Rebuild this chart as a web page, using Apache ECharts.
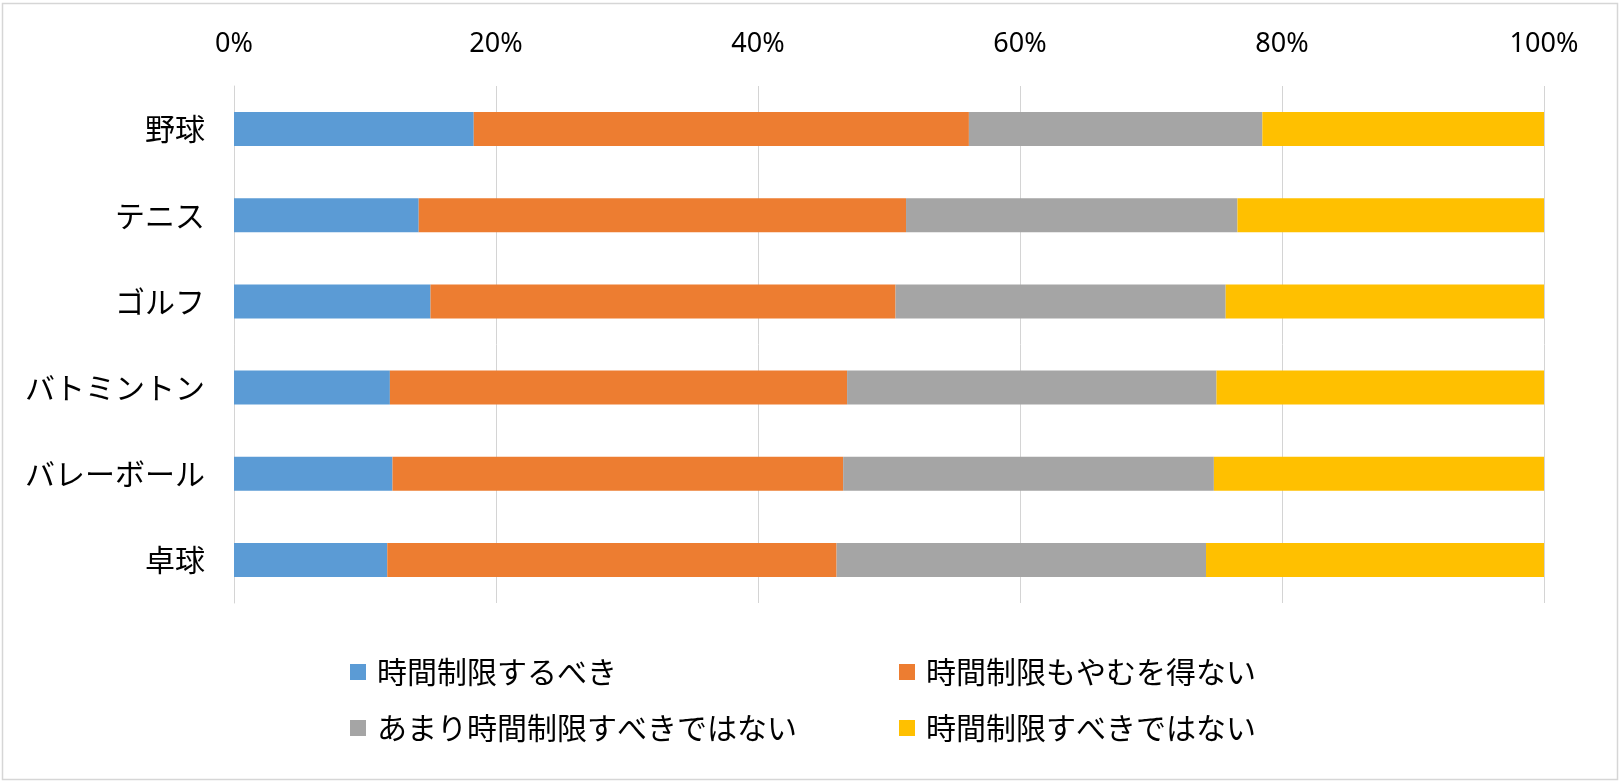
<!DOCTYPE html>
<html>
<head>
<meta charset="utf-8">
<script src="https://cdn.jsdelivr.net/npm/echarts@6/dist/echarts.min.js"></script>
<style>
html,body{margin:0;padding:0;background:#fff;}
#chart{width:1620px;height:783px;}
</style>
</head>
<body>
<div id="chart"></div>
<script>
const categories = ['野球', 'テニス', 'ゴルフ', 'バトミントン', 'バレーボール', '卓球'];
const seriesNames = ['時間制限するべき', '時間制限もやむを得ない', 'あまり時間制限すべきではない', '時間制限すべきではない'];
const shouldLimit = [18.3, 14.1, 15.0, 11.9, 12.1, 11.7];
const unavoidable = [37.8, 37.2, 35.5, 34.9, 34.4, 34.3];
const ratherNot = [22.4, 25.3, 25.2, 28.2, 28.3, 28.2];
const shouldNot = [21.5, 23.4, 24.3, 25.0, 25.2, 25.8];
const xTicks = [0, 20, 40, 60, 80, 100];
const colors = ['#5B9BD5', '#ED7D31', '#A5A5A5', '#FFC000'];

const FONT = '"Noto Sans CJK JP", "Noto Sans", sans-serif';
const LATIN = '"Noto Sans", sans-serif';
const chart = echarts.init(document.getElementById('chart'), null, {renderer: 'canvas'});
const seriesData = [shouldLimit, unavoidable, ratherNot, shouldNot];

const legendText = {fontSize: 30, lineHeight: 30, color: '#000', fontFamily: FONT, padding: [0, 0, 0, 6]};
chart.setOption({
  animation: false,
  color: colors,
  graphic: [{
    type: 'rect', shape: {x: 2.5, y: 3.5, width: 1615, height: 776},
    style: {fill: 'none', stroke: '#d6d6d6', lineWidth: 1.5}, silent: true
  }],
  grid: {left: 234, right: 76, top: 86, bottom: 180, containLabel: false},
  xAxis: {
    type: 'value', position: 'top', min: xTicks[0], max: xTicks[xTicks.length - 1], interval: 20,
    axisLine: {show: false}, axisTick: {show: false},
    axisLabel: {formatter: '{value}%', fontSize: 27, color: '#000', fontFamily: LATIN, margin: 28},
    splitLine: {show: true, lineStyle: {color: '#d4d4d4', width: 1}}
  },
  yAxis: {
    type: 'category', data: categories, inverse: true,
    axisLine: {show: true, lineStyle: {color: '#d4d4d4', width: 1}}, axisTick: {show: false},
    axisLabel: {fontSize: 30, color: '#000', fontFamily: FONT, margin: 29}
  },
  legend: [{
    orient: 'vertical', left: 345, top: 652, itemWidth: 16, itemHeight: 16, itemGap: 26,
    icon: 'rect', textStyle: legendText, data: [seriesNames[0], seriesNames[2]]
  }, {
    orient: 'vertical', left: 894, top: 652, itemWidth: 16, itemHeight: 16, itemGap: 26,
    icon: 'rect', textStyle: legendText, data: [seriesNames[1], seriesNames[3]]
  }],
  series: seriesNames.map((name, i) => ({
    name: name, type: 'bar', stack: 'total', barWidth: 34,
    data: seriesData[i], itemStyle: {color: colors[i]}
  }))
});
</script>
</body>
</html>
